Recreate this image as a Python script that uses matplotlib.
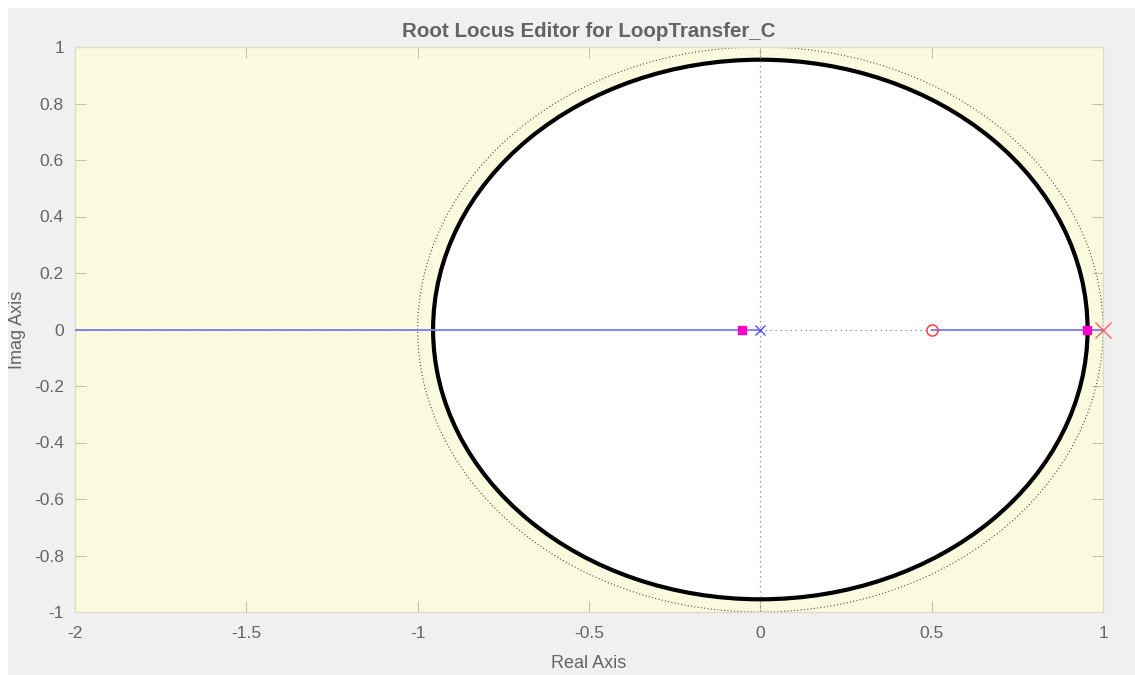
import numpy as np
import matplotlib.pyplot as plt
from matplotlib.patches import Circle, Rectangle

plt.rcParams['font.family'] = ['Liberation Sans', 'DejaVu Sans']

# open-loop poles / zeros, closed-loop poles and the locus branches
ol_poles = [0.0, 1.0]
ol_zeros = [0.5]
cl_poles = [-0.054, 0.953]
locus_branches = [(-2.0, 0.0), (0.5, 1.0)]
region_radius = 0.955

xticks = [-2, -1.5, -1, -0.5, 0, 0.5, 1]
yticks = [-1, -0.8, -0.6, -0.4, -0.2, 0, 0.2, 0.4, 0.6, 0.8, 1]

txt = '#646464'
fig = plt.figure(figsize=(11.35, 6.75), dpi=100, facecolor='white')
fig.patches.append(Rectangle((8 / 1135, 0), 1, 1 - 8 / 675, transform=fig.transFigure,
                             fc='#f0f0f0', ec='none', zorder=-10))

ax = fig.add_axes([75 / 1135, 1 - 612 / 675, 1028 / 1135, 565 / 675])
ax.set_facecolor('#fafade')

# allowed region inside the constraint circle
ax.add_patch(Circle((0, 0), region_radius, fc='white', ec='black', lw=3, zorder=1))

# unit circle
th = np.linspace(0, 2 * np.pi, 400)
ax.plot(np.cos(th), np.sin(th), ls=(0, (1, 2)), color='#505050', lw=0.8, zorder=2)

# real / imaginary axis lines
ax.axhline(0, ls=(0, (1, 3)), color='#808080', lw=0.9, zorder=2)
ax.axvline(0, ls=(0, (1, 3)), color='#808080', lw=0.9, zorder=2)

for a, b in locus_branches:
    ax.plot([a, b], [0, 0], color='#7b7bff', lw=1.3, zorder=3)

ax.plot([ol_poles[0]], [0], 'x', color='#5050ff', ms=7, mew=1, zorder=4)
ax.plot([ol_poles[1]], [0], 'x', color='#ff6060', ms=12, mew=1, zorder=4, clip_on=False)
ax.plot(ol_zeros, [0] * len(ol_zeros), 'o', mfc='none', mec='#ff3030', ms=8, mew=1, zorder=4)
ax.plot(cl_poles, [0] * len(cl_poles), 's', color='#ff00cc', ms=6, zorder=5)

ax.set_xlim(-2, 1)
ax.set_ylim(-1, 1)
ax.set_xticks(xticks)
ax.set_xticklabels(['-2', '-1.5', '-1', '-0.5', '0', '0.5', '1'])
ax.set_yticks(yticks)
ax.set_yticklabels(['-1', '-0.8', '-0.6', '-0.4', '-0.2', '0', '0.2', '0.4', '0.6', '0.8', '1'])
ax.tick_params(direction='in', length=8, width=0.6, color='#b4b4a0', labelcolor=txt,
               labelsize=12.5, top=True, right=True)
ax.tick_params(axis='x', pad=10)
ax.tick_params(axis='y', pad=8)
for s in ax.spines.values():
    s.set_color('#dcdcc8')
    s.set_linewidth(1)

ax.set_title('Root Locus Editor for LoopTransfer_C', color=txt, fontsize=14.8,
             fontweight='bold', pad=7)
ax.set_xlabel('Real Axis', color=txt, fontsize=13, labelpad=10)
ax.set_ylabel('Imag Axis', color=txt, fontsize=13, labelpad=6)

fig.savefig('out.png', dpi=100, facecolor=fig.get_facecolor())
